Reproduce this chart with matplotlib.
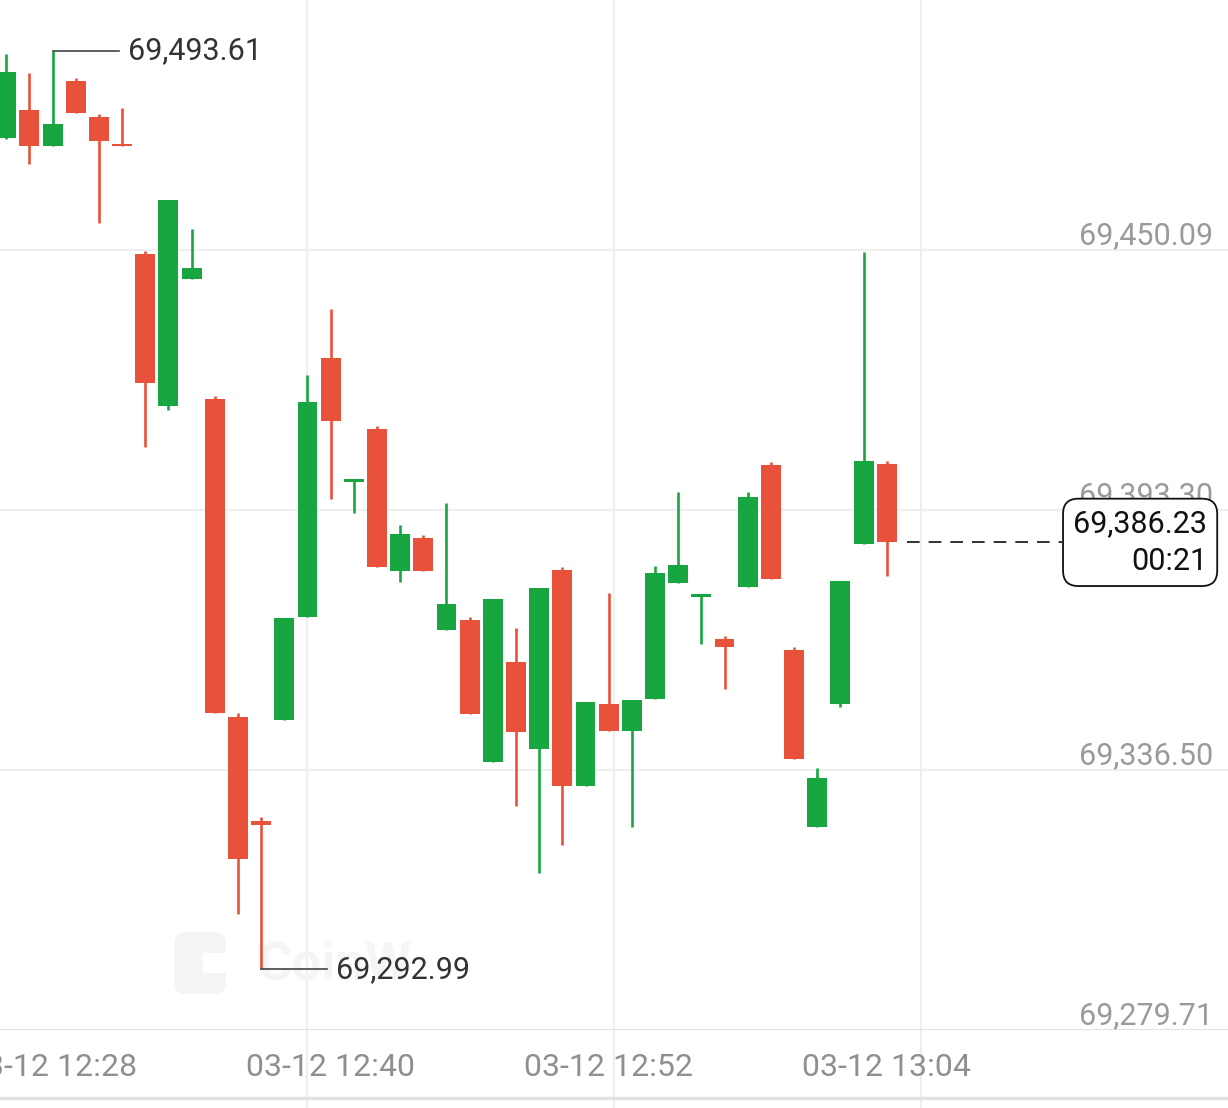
import matplotlib
matplotlib.use("Agg")
import matplotlib.pyplot as plt
from matplotlib.lines import Line2D
from matplotlib.patches import FancyBboxPatch, Rectangle
import matplotlib.transforms as mtransforms

plt.rcParams['font.family'] = ['Roboto', 'DejaVu Sans']

# 1-minute candles, 03-12 12:26 .. 13:04
opens = [69474.56, 69480.67, 69472.81, 69487.01, 69479.14, 69473.03, 69449.22, 69416.02,
         69443.76, 69417.55, 69348.08, 69325.37, 69347.44, 69369.94, 69426.50, 69399.42,
         69411.00, 69380.00, 69387.18, 69367.09, 69369.28, 69338.26, 69360.10, 69341.10,
         69380.20, 69333.02, 69350.93, 69345.03, 69352.02, 69377.36, 69374.30, 69365.13,
         69376.48, 69403.13, 69362.72, 69324.06, 69350.93, 69385.87, 69403.35]
highs = [69492.90, 69488.75, 69493.61, 69487.66, 69479.80, 69481.11, 69449.87, 69461.01,
         69454.68, 69418.20, 69348.97, 69326.25, 69369.72, 69422.79, 69437.21, 69399.86,
         69411.65, 69390.03, 69387.84, 69394.83, 69369.93, 69373.86, 69367.53, 69376.27,
         69380.86, 69351.37, 69375.17, 69351.80, 69381.07, 69397.24, 69374.74, 69365.78,
         69397.24, 69403.79, 69363.38, 69336.95, 69377.79, 69449.65, 69404.00]
lows = [69474.30, 69468.88, 69472.81, 69480.02, 69456.00, 69472.70, 69407.06, 69415.14,
        69443.76, 69348.97, 69305.05, 69292.99, 69347.44, 69369.94, 69395.71, 69392.65,
        69380.85, 69377.58, 69379.97, 69367.09, 69348.75, 69338.26, 69328.65, 69314.02,
        69320.13, 69333.02, 69345.03, 69324.06, 69352.02, 69377.36, 69364.03, 69354.20,
        69376.48, 69378.23, 69338.91, 69324.06, 69350.27, 69385.87, 69378.89]
closes = [69488.97, 69472.81, 69477.61, 69480.02, 69473.90, 69472.70, 69421.04, 69461.01,
          69446.16, 69348.97, 69317.07, 69324.50, 69369.72, 69416.89, 69412.74, 69399.86,
          69380.85, 69388.06, 69379.97, 69372.77, 69348.75, 69373.86, 69344.81, 69376.27,
          69333.02, 69351.37, 69345.03, 69351.80, 69379.54, 69381.29, 69374.74, 69363.38,
          69396.14, 69378.23, 69338.91, 69334.77, 69377.79, 69404.00, 69386.23]

price_levels = [69279.71, 69336.50, 69393.30, 69450.09]
tick_pos = [2, 14, 26, 38]
tick_labels = ["03-12 12:28", "03-12 12:40", "03-12 12:52", "03-12 13:04"]
countdown = "00:21"

UP = '#17a640'
DOWN = '#e8523a'
GRID = '#efefef'

fig = plt.figure(figsize=(12.28, 11.08), dpi=100)
fig.patch.set_facecolor('white')
ax = fig.add_axes([0, 78 / 1108, 1, 1030 / 1108])
ax.set_xlim(-0.27, 52.73)
ax.set_ylim(69279.71, 69504.70)
ax.axis('off')

# grid
for v in price_levels[1:]:
    ax.axhline(v, color=GRID, lw=1.5, zorder=0)
ax.axhline(price_levels[0], color='#dedede', lw=2, zorder=0)
for fx in [0.25, 0.5, 0.75]:
    fig.add_artist(Line2D([fx, fx], [0, 1], transform=fig.transFigure,
                          color=GRID, lw=1.5, zorder=0))
fig.add_artist(Line2D([0, 1], [1 - 1098 / 1108] * 2, transform=fig.transFigure,
                      color='#e2e2e2', lw=2.5, zorder=0))

# watermark
ax.add_patch(FancyBboxPatch((0.142, 0.035), 0.042, 0.06, transform=ax.transAxes,
                            boxstyle='round,pad=0,rounding_size=0.01',
                            fc='#f5f5f5', ec='none', zorder=0.5))
ax.add_patch(Rectangle((0.165, 0.055), 0.02, 0.02, transform=ax.transAxes,
                       fc='white', ec='none', zorder=0.6))
ax.text(0.21, 0.063, "CoinW", transform=ax.transAxes, fontsize=38, fontweight='bold',
        color='#f5f5f5', ha='left', va='center', zorder=0.5)

# candles
for i in range(len(opens)):
    o, h, l, c = opens[i], highs[i], lows[i], closes[i]
    col = UP if c >= o else DOWN
    ax.vlines(i, l, h, color=col, lw=1.9, zorder=2)
    body = max(abs(c - o), 0.55)
    ax.bar(i, body, bottom=min(o, c), width=0.86, color=col, lw=0, zorder=3)

# y labels
ytrans = mtransforms.blended_transform_factory(ax.transAxes, ax.transData)
for v in price_levels:
    ax.annotate(f"{v:,.2f}", xy=(0.988, v), xycoords=ytrans, xytext=(0, 4),
                textcoords='offset points', ha='right', va='baseline',
                fontsize=22, color='#9a9a9a', zorder=4)

# x labels
for p, lab in zip(tick_pos, tick_labels):
    ax.annotate(lab, xy=(p, 69279.71), xycoords='data', xytext=(0, -27),
                textcoords='offset points', ha='center', va='center',
                fontsize=23, color='#8f8f8f', annotation_clip=False)

# high / low markers
ih = highs.index(max(highs))
il = lows.index(min(lows))
for idx, val in [(ih, highs[ih]), (il, lows[il])]:
    ax.plot([idx, idx + 2.85], [val, val], color='#444444', lw=1.2, zorder=4)
    ax.text(idx + 3.25, val, f"{val:,.2f}", ha='left', va='center',
            fontsize=22, color='#333333', zorder=4)

# last price line + box
last = len(closes) - 1
ax.hlines(closes[last], last + 0.88, 45.55, colors='#222222', lw=1.3,
          linestyles=(0, (7, 5)), zorder=4)
ax.text(0.983, closes[last], f"{closes[last]:,.2f}\n{countdown}", transform=ytrans,
        ha='right', va='center', multialignment='right', linespacing=1.4,
        fontsize=22, color='#111111', zorder=6,
        bbox=dict(boxstyle='round,pad=0.33,rounding_size=0.5', fc='white',
                  ec='#111111', lw=1.3))

fig.savefig('out.png', dpi=100, facecolor='white')
